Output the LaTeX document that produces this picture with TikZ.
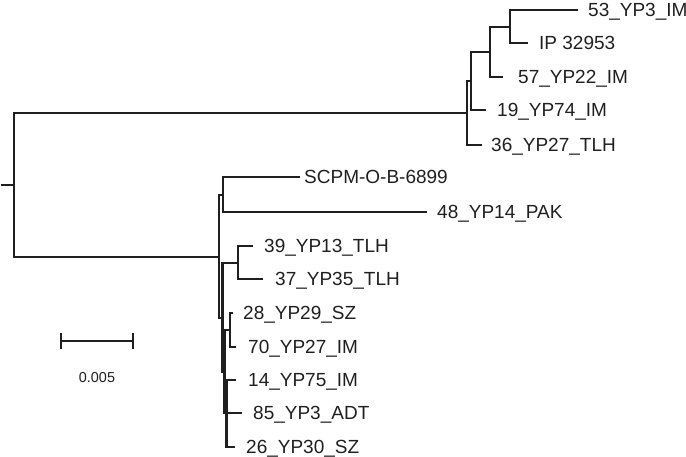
\documentclass[tikz,border=0pt]{standalone}
\usepackage{fontspec}
\setmainfont{Liberation Sans}
\begin{document}
\begin{tikzpicture}[x=1pt,y=-1pt,
  branch/.style={line width=2.5pt, draw=black!88, line join=miter},
  leaflabel/.style={anchor=west, inner sep=0pt, text=black!88,
    font=\fontsize{19}{21}\selectfont, text height=13.6pt, text depth=0pt},
  scalelabel/.style={inner sep=0pt, text=black!88, font=\fontsize{14.4}{16}\selectfont}]
\useasboundingbox (0,0) rectangle (686,457);
% internal nodes
\coordinate (stub) at (1,185);
\coordinate (R) at (14,185);
\coordinate (A) at (467,113);
\coordinate (B) at (471,81);
\coordinate (C) at (490,52);
\coordinate (D) at (510,27);
\coordinate (F) at (219,257);
\coordinate (E) at (223,195);
\coordinate (G) at (222.7,318);
\coordinate (H) at (238,263);
\coordinate (K) at (224.5,372);
\coordinate (I) at (230,330);
\coordinate (J) at (226.7,413);
% leaf ends
\coordinate (l1) at (578,10);
\coordinate (l2) at (528,43);
\coordinate (l3) at (503,77);
\coordinate (l4) at (486,110);
\coordinate (l5) at (482,145);
\coordinate (l6) at (300,177);
\coordinate (l7) at (427,212);
\coordinate (l8) at (253,246);
\coordinate (l9) at (263,279);
\coordinate (l10) at (233,313);
\coordinate (l11) at (236,347);
\coordinate (l12) at (236,380);
\coordinate (l13) at (242,413);
\coordinate (l14) at (235,447);
% labels
\node[leaflabel] (t1) at (588,10) {53\_YP3\_IM};
\node[leaflabel] (t2) at (539,43) {IP 32953};
\node[leaflabel] (t3) at (518,77) {57\_YP22\_IM};
\node[leaflabel] (t4) at (497,110) {19\_YP74\_IM};
\node[leaflabel] (t5) at (491,145) {36\_YP27\_TLH};
\node[leaflabel] (t6) at (304,177) {SCPM-O-B-6899};
\node[leaflabel] (t7) at (437,212) {48\_YP14\_PAK};
\node[leaflabel] (t8) at (264,246) {39\_YP13\_TLH};
\node[leaflabel] (t9) at (275,279) {37\_YP35\_TLH};
\node[leaflabel] (t10) at (243,313) {28\_YP29\_SZ};
\node[leaflabel] (t11) at (248,347) {70\_YP27\_IM};
\node[leaflabel] (t12) at (248,380) {14\_YP75\_IM};
\node[leaflabel] (t13) at (253,413) {85\_YP3\_ADT};
\node[leaflabel] (t14) at (246,447) {26\_YP30\_SZ};
% branches
\draw[branch] (stub) -- (R);
\draw[branch] (A) -| (R) |- (F);
\draw[branch] (B) -| (A) |- (l5);
\draw[branch] (C) -| (B) |- (l4);
\draw[branch] (D) -| (C) |- (l3);
\draw[branch] (l1) -| (D) |- (l2);
\draw[branch] (E) -| (F) |- (G);
\draw[branch] (l6) -| (E) |- (l7);
\draw[branch] (H) -| (G) |- (K);
\draw[branch] (l8) -| (H) |- (l9);
\draw[branch] (I) -| (K) |- (J);
\draw[branch] (l10) -| (I) |- (l11);
\draw[branch] (l12) -| (J) |- (l14);
\draw[branch] (J) -- (l13);
% scale bar
\coordinate (sbL) at (61,341);
\coordinate (sbR) at (133,341);
\draw[branch] (sbL) -- (sbR);
\draw[branch] ([yshift=-7.5pt]sbL) -- ([yshift=7.5pt]sbL);
\draw[branch] ([yshift=-7.5pt]sbR) -- ([yshift=7.5pt]sbR);
\node[scalelabel] (sbt) at (97,378) {0.005};
\end{tikzpicture}
\end{document}
